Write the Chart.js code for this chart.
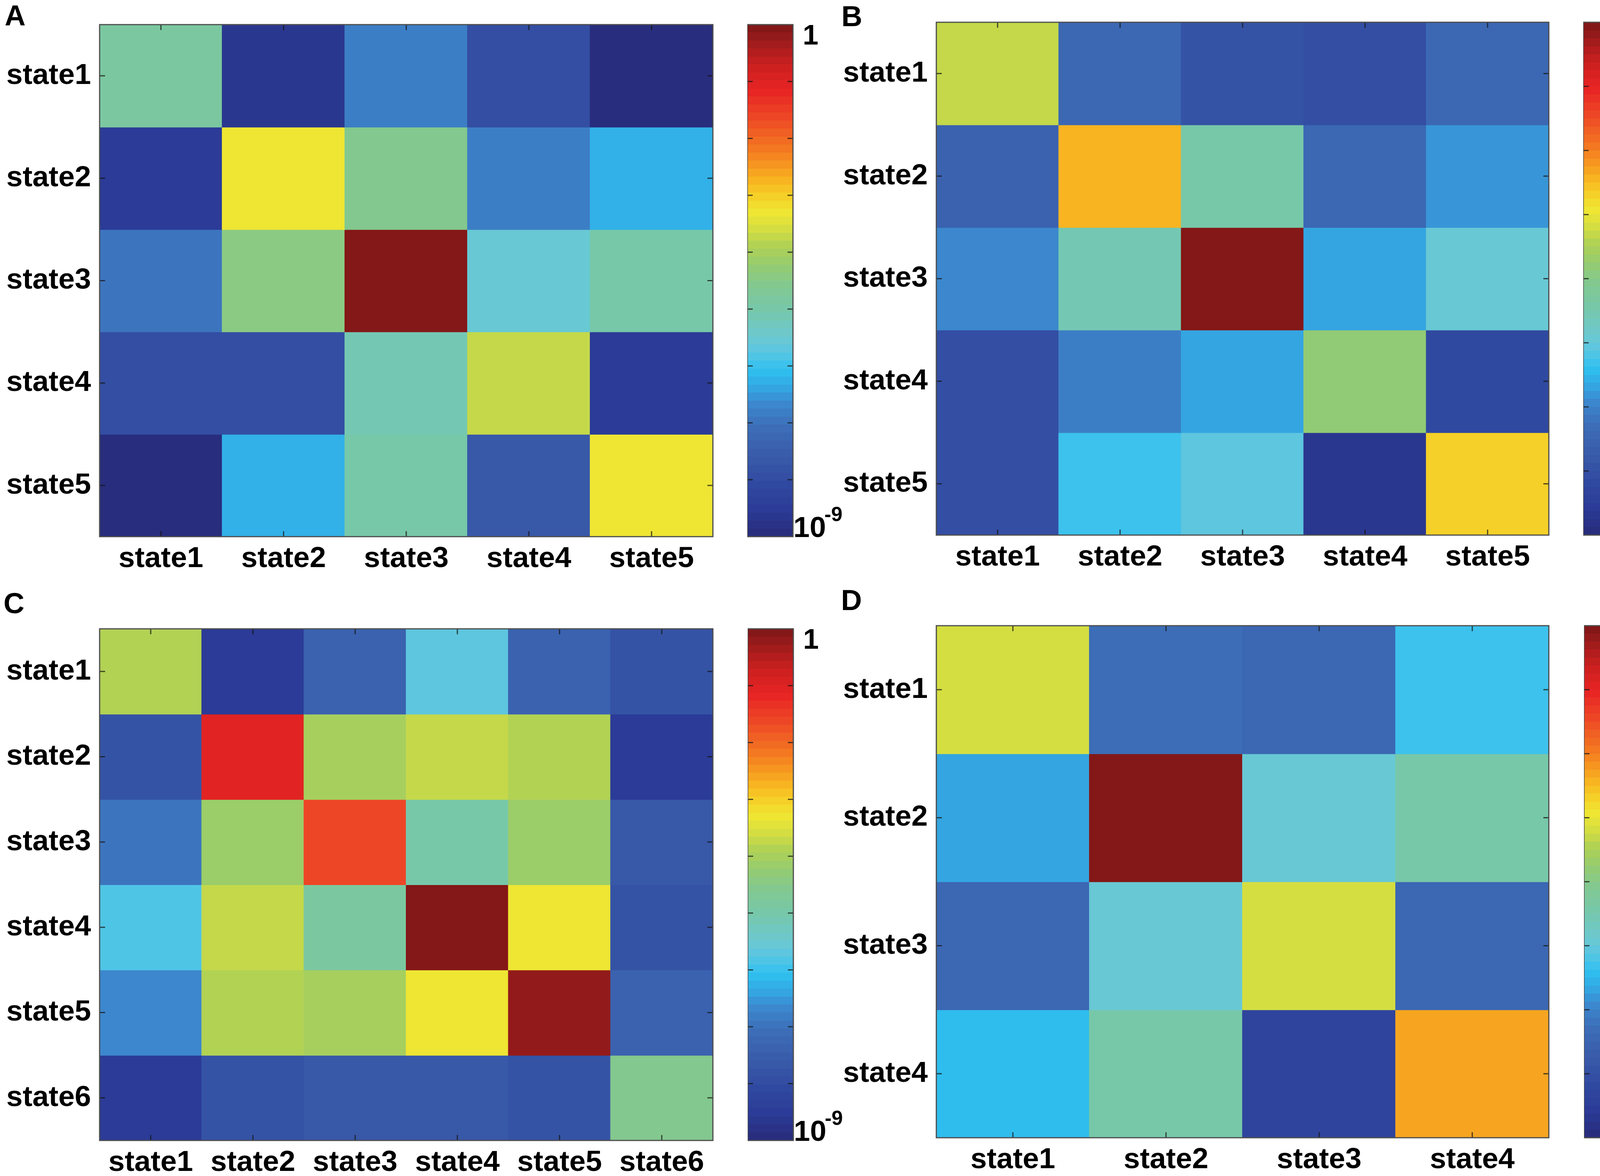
<!DOCTYPE html>
<html>
<head>
<meta charset="utf-8">
<script src="https://cdn.jsdelivr.net/npm/chart.js@4.4.1/dist/chart.umd.min.js"></script>
<style>
  html, body { margin: 0; padding: 0; background: #fff; }
  body { width: 4312px; height: 3011px; position: relative; overflow: hidden;
         font-family: "Liberation Sans", Arial, sans-serif; }
  .letter { position: absolute; font-weight: bold; font-size: 74px; line-height: 1; color: #000; }
  canvas { position: absolute; }
</style>
</head>
<body>
<div class="letter" style="left:12px;top:3px">A</div>
<div class="letter" style="left:2154px;top:5px">B</div>
<div class="letter" style="left:9px;top:1508px">C</div>
<div class="letter" style="left:2153px;top:1500px">D</div>

<canvas id="heatA"></canvas><canvas id="barA"></canvas>
<canvas id="heatB"></canvas><canvas id="barB"></canvas>
<canvas id="heatC"></canvas><canvas id="barC"></canvas>
<canvas id="heatD"></canvas><canvas id="barD"></canvas>

<script>
// state names (rows and columns are the same states)
var statesA = ['state1', 'state2', 'state3', 'state4', 'state5'];
var statesB = ['state1', 'state2', 'state3', 'state4', 'state5'];
var statesC = ['state1', 'state2', 'state3', 'state4', 'state5', 'state6'];
var statesD = ['state1', 'state2', 'state3', 'state4'];

// log10 of each cell (row = state on the y axis, top first)
var logA = [
  [-4.8, -8.65, -6.85, -7.9, -9.0],
  [-8.55, -3.3, -4.6, -6.8, -6.2],
  [-6.9, -4.4, -0.05, -5.6, -4.95],
  [-7.9, -7.9, -5.2, -3.75, -8.55],
  [-9.0, -6.2, -4.95, -7.6, -3.25]
];
var logB = [
  [-3.3, -6.5, -6.95, -7.05, -6.4],
  [-6.55, -2.5, -4.4, -6.4, -5.8],
  [-5.9, -4.55, -0.1, -5.7, -5.0],
  [-7.05, -6.1, -5.7, -3.85, -7.2],
  [-7.1, -5.35, -5.1, -7.7, -2.7]
];
var logC = [
  [-3.85, -8.45, -7.35, -5.75, -7.35, -7.75],
  [-7.8, -1.1, -4.05, -3.75, -3.85, -8.45],
  [-7.0, -4.15, -1.55, -4.95, -4.15, -7.6],
  [-5.9, -3.7, -4.8, -0.05, -3.35, -7.75],
  [-6.7, -3.9, -4.05, -3.35, -0.15, -7.4],
  [-8.45, -7.8, -7.6, -7.6, -7.8, -4.6]
];
var logD = [
  [-3.2, -6.3, -6.5, -5.35],
  [-5.7, -0.1, -4.9, -4.5],
  [-6.5, -4.95, -3.2, -6.5],
  [-5.5, -4.4, -7.35, -2.3]
];

// colour bar limits, as log10 (10^-9 .. 1 and 10^-8 .. 1)
var rangeA = [-9, 0];
var rangeB = [-8, 0];
var rangeC = [-9, 0];
var rangeD = [-8, 0];

// ---- styling / layout below ----
var FONT = '"Liberation Sans", Arial, sans-serif';
var LEVELS = 64;
var CMAP = [
  [0.00, '#272a78'], [0.05, '#2b3a96'], [0.10, '#3048a0'], [0.15, '#3858a8'],
  [0.21, '#3c6cb6'], [0.26, '#3c88ce'], [0.29, '#34a6e2'], [0.325, '#2ec0f0'],
  [0.36, '#5ac6e2'], [0.39, '#6cc8d0'], [0.44, '#76c8ac'], [0.49, '#82c890'],
  [0.535, '#98cc6c'], [0.57, '#b2d254'], [0.60, '#d4de42'], [0.635, '#f0e632'],
  [0.67, '#f6cc26'], [0.70, '#f8b020'], [0.75, '#f47e20'], [0.815, '#ee4a26'],
  [0.87, '#e82424'], [0.92, '#cc2020'], [0.96, '#a41c1c'], [1.00, '#7c1616']
];

var YW = 250, XH = 140, PAD = 10;

var boxes = {
  A: { l: 255, t: 63, r: 1825, b: 1374, cl: 1913, cr: 2030 },
  B: { l: 2397, t: 57, r: 3965, b: 1370, cl: 4053, cr: 4173 },
  C: { l: 255, t: 1610, r: 1825, b: 2920, cl: 1914, cr: 2031 },
  D: { l: 2397, t: 1602, r: 3965, b: 2913, cl: 4055, cr: 4172 }
};

function hex(c) {
  return [parseInt(c.substr(1, 2), 16), parseInt(c.substr(3, 2), 16), parseInt(c.substr(5, 2), 16)];
}

function cmap(t) {
  t = Math.max(0, Math.min(1, t));
  for (var i = 1; i < CMAP.length; i++) {
    if (t <= CMAP[i][0]) {
      var a = CMAP[i - 1], b = CMAP[i];
      var f = (t - a[0]) / (b[0] - a[0]);
      var ca = hex(a[1]), cb = hex(b[1]);
      return 'rgb(' + [0, 1, 2].map(function (k) {
        return Math.round(ca[k] + (cb[k] - ca[k]) * f);
      }).join(',') + ')';
    }
  }
  return CMAP[CMAP.length - 1][1];
}

// matlab style: value -> one of 64 flat colours
function colorFor(v, range) {
  var t = (v - range[0]) / (range[1] - range[0]);
  var k = Math.min(LEVELS - 1, Math.max(0, Math.floor(t * LEVELS)));
  return cmap((k + 0.5) / LEVELS);
}

function line(ctx, x1, y1, x2, y2) {
  ctx.beginPath(); ctx.moveTo(x1, y1); ctx.lineTo(x2, y2); ctx.stroke();
}

// no extra room for half labels at the axis ends
function noEndPadding(s) {
  s.paddingTop = 0; s.paddingBottom = 0; s.paddingLeft = 0; s.paddingRight = 0;
}

// frame + inward ticks on all four sides
var framePlugin = {
  id: 'frame',
  afterDatasetsDraw: function (chart) {
    var a = chart.chartArea, ctx = chart.ctx, L = 14;
    ctx.save();
    ctx.strokeStyle = 'rgba(20,20,20,0.75)';
    ctx.lineWidth = 3;
    var xs = chart.scales.x, ys = chart.scales.y;
    xs.ticks.forEach(function (t, i) {
      var x = xs.getPixelForTick(i);
      line(ctx, x, a.top, x, a.top + L);
      line(ctx, x, a.bottom, x, a.bottom - L);
    });
    ys.ticks.forEach(function (t, i) {
      var y = ys.getPixelForTick(i);
      line(ctx, a.left, y, a.left + L, y);
      line(ctx, a.right, y, a.right - L, y);
    });
    ctx.strokeStyle = '#4d4d4d';
    ctx.strokeRect(a.left, a.top, a.right - a.left, a.bottom - a.top);
    ctx.restore();
  }
};

function place(canvas, left, top, w, h) {
  canvas.width = w; canvas.height = h;
  canvas.style.left = left + 'px'; canvas.style.top = top + 'px';
  canvas.style.width = w + 'px'; canvas.style.height = h + 'px';
}

function heatmap(id, states, logs, range, box) {
  var canvas = document.getElementById(id);
  place(canvas, box.l - YW, box.t - PAD, YW + (box.r - box.l) + PAD, PAD + (box.b - box.t) + XH);

  var datasets = states.map(function (row, i) {
    return {
      label: row,
      data: states.map(function () { return [i, i + 1]; }),
      backgroundColor: logs[i].map(function (v) { return colorFor(v, range); }),
      borderWidth: 0,
      inflateAmount: 1,
      barPercentage: 1,
      categoryPercentage: 1,
      grouped: false
    };
  });

  return new Chart(canvas, {
    type: 'bar',
    data: { labels: states, datasets: datasets },
    plugins: [framePlugin],
    options: {
      responsive: false,
      animation: false,
      devicePixelRatio: 1,
      layout: { padding: { top: PAD, right: PAD, left: 0, bottom: 0 } },
      plugins: { legend: { display: false }, tooltip: { enabled: false } },
      scales: {
        x: {
          grid: { display: false, drawTicks: false },
          border: { display: false },
          ticks: { color: '#000', font: { family: FONT, size: 75, weight: 'bold' }, padding: 12, maxRotation: 0 },
          afterFit: function (s) { s.height = XH; noEndPadding(s); }
        },
        y: {
          min: 0, max: states.length, reverse: true,
          grid: { display: false, drawTicks: false },
          border: { display: false },
          afterBuildTicks: function (s) {
            s.ticks = states.map(function (n, i) { return { value: i + 0.5 }; });
          },
          ticks: {
            autoSkip: false,
            color: '#000', font: { family: FONT, size: 75, weight: 'bold' }, padding: 22,
            callback: function (v) { return states[Math.floor(v)]; }
          },
          afterFit: function (s) { s.width = YW; noEndPadding(s); }
        }
      }
    }
  });
}

// colour bar: one floating bar filled with the 64 banded colours
var cbarPlugin = {
  id: 'cbar',
  afterDatasetsDraw: function (chart, args, opts) {
    var a = chart.chartArea, ctx = chart.ctx, ys = chart.scales.y, L = 14;
    var lo = opts.range[0], hi = opts.range[1];
    ctx.save();
    ctx.strokeStyle = 'rgba(20,20,20,0.75)';
    ctx.lineWidth = 3;
    for (var v = lo + 1; v < hi; v++) {
      var y = ys.getPixelForValue(v);
      line(ctx, a.left, y, a.left + L, y);
      line(ctx, a.right, y, a.right - L, y);
    }
    ctx.strokeStyle = '#4d4d4d';
    ctx.strokeRect(a.left, a.top, a.right - a.left, a.bottom - a.top);

    // end labels: 1 at the top, 10^lo at the bottom
    ctx.fillStyle = '#000';
    ctx.textAlign = 'left';
    ctx.textBaseline = 'alphabetic';
    ctx.font = 'bold 72px ' + FONT;
    ctx.fillText(hi === 0 ? '1' : '10', a.right + 25, ys.getPixelForValue(hi) + 51);
    var yb = ys.getPixelForValue(lo);
    ctx.font = 'bold 75px ' + FONT;
    ctx.fillText('10', a.right + 1, yb + 1);
    var w = ctx.measureText('10').width;
    ctx.font = 'bold 52px ' + FONT;
    ctx.fillText(String(lo), a.right + 1 + w - 4, yb - 40);
    ctx.restore();
  }
};

function colorbar(id, range, box) {
  var canvas = document.getElementById(id);
  var right = 150;
  place(canvas, box.cl, box.t - PAD, (box.cr - box.cl) + right, (box.b - box.t) + 2 * PAD);

  return new Chart(canvas, {
    type: 'bar',
    data: {
      labels: [''],
      datasets: [{
        data: [[range[0], range[1]]],
        borderWidth: 0,
        barPercentage: 1,
        categoryPercentage: 1,
        backgroundColor: function (c) {
          var a = c.chart.chartArea;
          if (!a) return '#000';
          var g = c.chart.ctx.createLinearGradient(0, a.bottom, 0, a.top);
          for (var k = 0; k < LEVELS; k++) {
            var col = cmap((k + 0.5) / LEVELS);
            g.addColorStop(k / LEVELS, col);
            g.addColorStop((k + 1) / LEVELS, col);
          }
          return g;
        }
      }]
    },
    plugins: [cbarPlugin],
    options: {
      responsive: false,
      animation: false,
      devicePixelRatio: 1,
      layout: { padding: { top: PAD, bottom: PAD, left: 0, right: right } },
      plugins: { legend: { display: false }, tooltip: { enabled: false }, cbar: { range: range } },
      scales: {
        x: { display: false },
        y: { display: false, min: range[0], max: range[1] }
      }
    }
  });
}

heatmap('heatA', statesA, logA, rangeA, boxes.A);
heatmap('heatB', statesB, logB, rangeB, boxes.B);
heatmap('heatC', statesC, logC, rangeC, boxes.C);
heatmap('heatD', statesD, logD, rangeD, boxes.D);
colorbar('barA', rangeA, boxes.A);
colorbar('barB', rangeB, boxes.B);
colorbar('barC', rangeC, boxes.C);
colorbar('barD', rangeD, boxes.D);
</script>
</body>
</html>
